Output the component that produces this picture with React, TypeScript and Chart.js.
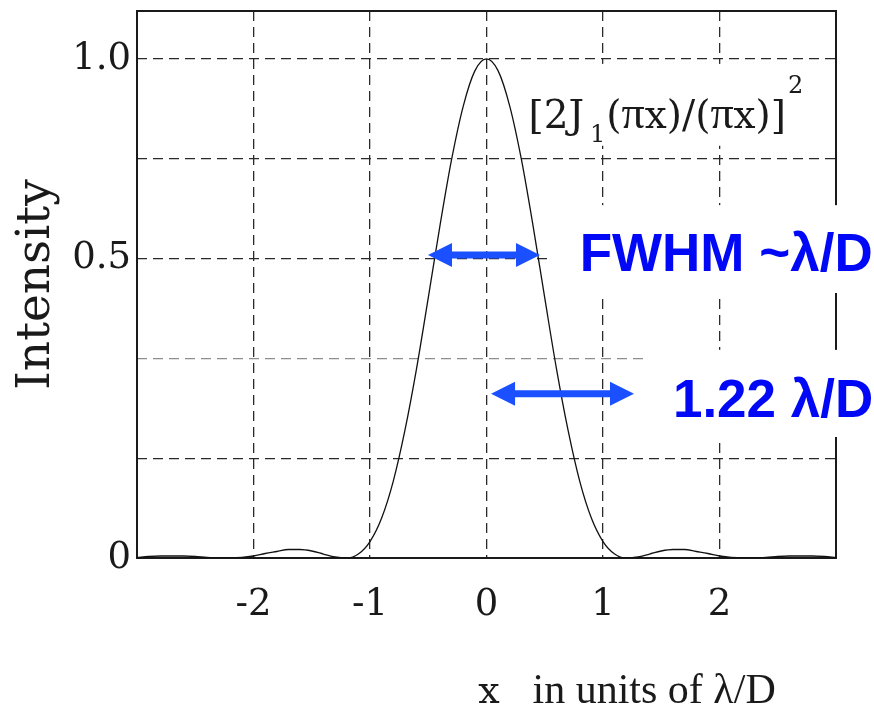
import React, { useEffect, useRef } from 'react';
import { Chart, registerables } from 'chart.js';

Chart.register(...registerables);

// ---------- data ----------
const xValues = [
  -3.0, -2.9, -2.8, -2.7, -2.6, -2.5, -2.4, -2.3, -2.2, -2.1,
  -2.0, -1.9, -1.8, -1.7, -1.6, -1.5, -1.4, -1.3, -1.2, -1.1,
  -1.0, -0.9, -0.8, -0.7, -0.6, -0.5, -0.4, -0.3, -0.2, -0.1,
  0.0,
  0.1, 0.2, 0.3, 0.4, 0.5, 0.6, 0.7, 0.8, 0.9, 1.0,
  1.1, 1.2, 1.3, 1.4, 1.5, 1.6, 1.7, 1.8, 1.9, 2.0,
  2.1, 2.2, 2.3, 2.4, 2.5, 2.6, 2.7, 2.8, 2.9, 3.0,
];
const intensity = [
  0.001, 0.003, 0.004, 0.004, 0.004, 0.003, 0.001, 0.000, 0.000, 0.001,
  0.004, 0.009, 0.013, 0.017, 0.017, 0.014, 0.008, 0.002, 0.000, 0.008,
  0.033, 0.080, 0.154, 0.256, 0.380, 0.521, 0.665, 0.798, 0.905, 0.976,
  1.000,
  0.976, 0.905, 0.798, 0.665, 0.521, 0.380, 0.256, 0.154, 0.080, 0.033,
  0.008, 0.000, 0.002, 0.008, 0.014, 0.017, 0.017, 0.013, 0.009, 0.004,
  0.001, 0.000, 0.000, 0.001, 0.003, 0.004, 0.004, 0.004, 0.003, 0.001,
];
const xTickValues = [-2, -1, 0, 1, 2];
const xTickLabels = ['-2', '-1', '0', '1', '2'];
const yTickValues = [0, 0.2, 0.4, 0.6, 0.8, 1.0];
const yTickLabels = ['0', '', '', '0.5', '', '1.0'];

const yAxisTitle = 'Intensity';
const xAxisSymbol = 'x';
const xAxisUnits = 'in units of λ/D';
const fwhmLabel = 'FWHM ~λ/D';
const ringLabel = '1.22 λ/D';
// formula "[2J₁(πx)/(πx)]²" split into pieces: [text, style]
const formulaPieces: [string, string][] = [
  ['[2J', 'main'],
  ['1', 'sub'],
  ['(', 'main'],
  ['π', 'greek'],
  ['x)/(', 'main'],
  ['π', 'greek'],
  ['x)]', 'main'],
  ['2', 'sup'],
];

// annotation anchors, in data units
const fwhmArrow = { x1: -0.502, x2: 0.459, y: 0.607 };
const ringArrow = { x1: 0.039, x2: 1.266, y: 0.329 };
const fwhmBox = { x0: 0.571, yTop: 0.707, yBottom: 0.531 };
const ringBox = { x0: 1.343, yTop: 0.417, yBottom: 0.2425 };
const fwhmText = { x: 0.8, y: 0.575 };
const ringText = { x: 1.6, y: 0.2826 };
const formulaBox = { x0: 0.33, x1: 2.957, yTop: 0.99, yBottom: 0.826 };
const formulaText = { x: 0.36, y: 0.862 };
const xTitlePos = { symbolX: -0.07, unitsX: 0.395 };

const SERIF = '"DejaVu Serif", serif';
const TIMES = '"Liberation Serif", "Times New Roman", serif';
const SANS = '"Liberation Sans", Arial, sans-serif';
const INK = '#1a1a1a';
const ARROW_BLUE = '#1a50ff';
const TEXT_BLUE = '#0008f5';

function drawDoubleArrow(ctx: CanvasRenderingContext2D, xa: number, xb: number, y: number) {
  const hl = 24;
  const hw = 12;
  const t = 3.5;
  ctx.beginPath();
  ctx.moveTo(xa, y);
  ctx.lineTo(xa + hl, y - hw);
  ctx.lineTo(xa + hl, y - t);
  ctx.lineTo(xb - hl, y - t);
  ctx.lineTo(xb - hl, y - hw);
  ctx.lineTo(xb, y);
  ctx.lineTo(xb - hl, y + hw);
  ctx.lineTo(xb - hl, y + t);
  ctx.lineTo(xa + hl, y + t);
  ctx.lineTo(xa + hl, y + hw);
  ctx.closePath();
  ctx.fillStyle = ARROW_BLUE;
  ctx.fill();
}

const pieceStyles: Record<string, { font: string; dy: number; before: number; after: number }> = {
  main: { font: `39px ${SERIF}`, dy: 0, before: 0, after: 0 },
  greek: { font: `46px ${TIMES}`, dy: 0, before: 0, after: 0 },
  sub: { font: `24px ${SERIF}`, dy: 14, before: 6, after: 1 },
  sup: { font: `24px ${SERIF}`, dy: -35, before: 2, after: 0 },
};

const overlayPlugin = {
  id: 'overlay',
  beforeDatasetsDraw(chart: any) {
    const { ctx, chartArea: a } = chart;
    ctx.save();
    ctx.strokeStyle = INK;
    ctx.lineWidth = 2;
    ctx.strokeRect(a.left, a.top, a.right - a.left, a.bottom - a.top);
    ctx.restore();
  },
  afterDatasetsDraw(chart: any) {
    const { ctx, scales, width, height } = chart;
    const px = (v: number) => scales.x.getPixelForValue(v);
    const py = (v: number) => scales.y.getPixelForValue(v);
    ctx.save();

    // white label boxes
    ctx.fillStyle = '#ffffff';
    ctx.fillRect(px(formulaBox.x0), py(formulaBox.yTop), px(formulaBox.x1) - px(formulaBox.x0), py(formulaBox.yBottom) - py(formulaBox.yTop));
    ctx.fillRect(px(fwhmBox.x0), py(fwhmBox.yTop), width - px(fwhmBox.x0), py(fwhmBox.yBottom) - py(fwhmBox.yTop));
    ctx.fillRect(px(ringBox.x0), py(ringBox.yTop), width - px(ringBox.x0), py(ringBox.yBottom) - py(ringBox.yTop));

    // arrows
    drawDoubleArrow(ctx, px(fwhmArrow.x1), px(fwhmArrow.x2), py(fwhmArrow.y));
    drawDoubleArrow(ctx, px(ringArrow.x1), px(ringArrow.x2), py(ringArrow.y));

    // blue labels
    ctx.fillStyle = TEXT_BLUE;
    ctx.textAlign = 'left';
    ctx.textBaseline = 'alphabetic';
    ctx.font = `bold 53px ${SANS}`;
    ctx.fillText(fwhmLabel, px(fwhmText.x), py(fwhmText.y));
    ctx.fillText(ringLabel, px(ringText.x), py(ringText.y));

    // formula label
    ctx.fillStyle = INK;
    let fx = px(formulaText.x);
    const fy = py(formulaText.y);
    for (const [text, style] of formulaPieces) {
      const st = pieceStyles[style];
      ctx.font = st.font;
      fx += st.before;
      ctx.fillText(text, fx, fy + st.dy);
      fx += ctx.measureText(text).width + st.after;
    }

    // x axis title
    const by = height - 4;
    ctx.font = `38px ${SERIF}`;
    ctx.fillText(xAxisSymbol, px(xTitlePos.symbolX), by);
    ctx.font = `42px ${TIMES}`;
    ctx.fillText(xAxisUnits, px(xTitlePos.unitsX), by);

    ctx.restore();
  },
};

export default function App() {
  const canvasRef = useRef<HTMLCanvasElement | null>(null);

  useEffect(() => {
    const canvas = canvasRef.current;
    if (!canvas) return;
    const gridColor = (c: any) =>
      c.tick && Math.abs(c.tick.value - 0.4) < 1e-6 ? '#8c8c8c' : '#2a2a2a';

    const chart = new Chart(canvas, {
      type: 'line',
      data: {
        datasets: [
          {
            data: xValues.map((x, i) => ({ x, y: intensity[i] })),
            borderColor: '#111111',
            borderWidth: 1.3,
            pointRadius: 0,
            fill: false,
            cubicInterpolationMode: 'monotone',
          },
        ],
      },
      options: {
        responsive: false,
        animation: false,
        events: [],
        layout: { padding: { top: 11, right: 38, left: 0, bottom: 0 } },
        plugins: { legend: { display: false }, tooltip: { enabled: false } },
        scales: {
          x: {
            type: 'linear',
            min: -3,
            max: 3,
            afterBuildTicks: (s: any) => {
              s.ticks = xTickValues.map((v) => ({ value: v }));
            },
            afterFit: (s: any) => {
              s.height = 149;
              s.paddingLeft = 0;
              s.paddingRight = 0;
            },
            grid: { color: gridColor, lineWidth: 1.3, drawTicks: false },
            border: { display: false, dash: [10, 6] },
            ticks: {
              autoSkip: false,
              maxRotation: 0,
              padding: 25,
              color: INK,
              font: { family: SERIF, size: 37 },
              callback: (_v: any, i: number) => xTickLabels[i],
            },
          },
          y: {
            type: 'linear',
            min: 0,
            max: 1.096,
            afterBuildTicks: (s: any) => {
              s.ticks = yTickValues.map((v) => ({ value: v }));
            },
            afterFit: (s: any) => {
              s.width = 137;
              s.paddingTop = 0;
              s.paddingBottom = 0;
            },
            grid: { color: gridColor, lineWidth: 1.3, drawTicks: false },
            border: { display: false, dash: [10, 6] },
            ticks: {
              autoSkip: false,
              padding: 6,
              color: INK,
              font: { family: SERIF, size: 37 },
              callback: (_v: any, i: number) => yTickLabels[i],
            },
            title: {
              display: true,
              text: yAxisTitle,
              color: INK,
              font: { family: SERIF, size: 47 },
              padding: { top: 9, bottom: 0 },
            },
          },
        },
      },
      plugins: [overlayPlugin],
    } as any);

    return () => chart.destroy();
  }, []);

  return (
    <div style={{ position: 'fixed', left: 0, top: 0, width: 874, height: 707, background: '#ffffff' }}>
      <canvas ref={canvasRef} width={874} height={707} style={{ display: 'block' }} />
    </div>
  );
}
